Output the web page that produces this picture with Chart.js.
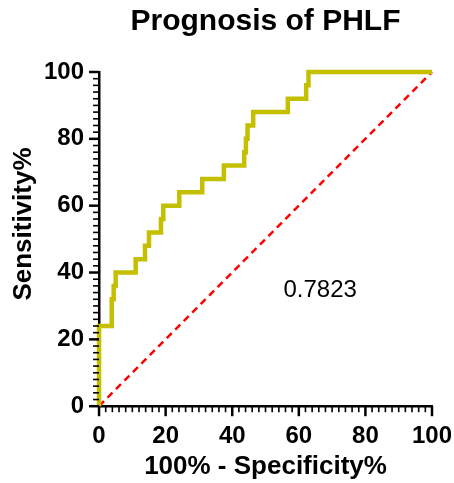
<!DOCTYPE html>
<html>
<head>
<meta charset="utf-8">
<script src="https://cdn.jsdelivr.net/npm/chart.js@4"></script>
<style>
  body { margin: 0; background: #fff; }
</style>
</head>
<body>
<canvas id="rocChart" width="454" height="483"></canvas>
<script>
// ROC curve vertices (100% - specificity, sensitivity)
const fpr = [0, 0, 3.8, 3.8, 4.4, 4.4, 5, 5, 11, 11, 13.8, 13.8, 15, 15, 18.6, 18.6, 19.3, 19.3, 24.1, 24.1, 31, 31, 37.5, 37.5, 43.6, 43.6, 44.1, 44.1, 44.6, 44.6, 46.3, 46.3, 56.7, 56.7, 62.2, 62.2, 62.9, 62.9, 100];
const tpr = [0, 24, 24, 32, 32, 36, 36, 40, 40, 44, 44, 48, 48, 52, 52, 56, 56, 60, 60, 64, 64, 68, 68, 72, 72, 76, 76, 80, 80, 84, 84, 88, 88, 92, 92, 96, 96, 100, 100];
const refX = [0, 100];
const refY = [0, 100];
const majorTicks = [0, 20, 40, 60, 80, 100];
const aucText = '0.7823';
const chartTitle = 'Prognosis of PHLF';
const xTitle = '100% - Specificity%';
const yTitle = 'Sensitivity%';

const FONT = 'Arial, "Liberation Sans", sans-serif';

// Minor/major ticks, titles and AUC label
const extrasPlugin = {
    id: 'extras',
    afterDraw(chart) {
        const ctx = chart.ctx;
        const xs = chart.scales.x;
        const ys = chart.scales.y;
        const area = chart.chartArea;
        ctx.save();
        ctx.strokeStyle = '#000';
        for (let v = 0; v <= 100; v += 2) {
            const major = v % 20 === 0;
            const len = major ? 10 : 6;
            ctx.lineWidth = major ? 2.5 : 1.6;
            const px = xs.getPixelForValue(v);
            ctx.beginPath();
            ctx.moveTo(px, area.bottom);
            ctx.lineTo(px, area.bottom + len);
            ctx.stroke();
            const py = ys.getPixelForValue(v);
            ctx.beginPath();
            ctx.moveTo(area.left, py);
            ctx.lineTo(area.left - len, py);
            ctx.stroke();
        }
        const cx = (area.left + area.right) / 2;
        ctx.fillStyle = '#000';
        ctx.textAlign = 'center';
        ctx.textBaseline = 'middle';
        ctx.font = 'bold 30px ' + FONT;
        ctx.fillText(chartTitle, cx, 22);
        ctx.font = 'bold 26px ' + FONT;
        ctx.fillText(xTitle, cx, 467);
        ctx.save();
        ctx.translate(24, 224);
        ctx.rotate(-Math.PI / 2);
        ctx.fillText(yTitle, 0, 0);
        ctx.restore();
        ctx.font = '24px ' + FONT;
        ctx.fillText(aucText, xs.getPixelForValue(66.4), ys.getPixelForValue(34.8));
        ctx.restore();
    }
};

new Chart(document.getElementById('rocChart'), {
    type: 'line',
    data: {
        datasets: [{
            data: fpr.map((x, i) => ({ x: x, y: tpr[i] })),
            borderColor: '#c4c000',
            borderWidth: 4.5,
            pointRadius: 0,
            fill: false,
            tension: 0,
            clip: 6
        }, {
            data: refX.map((x, i) => ({ x: x, y: refY[i] })),
            borderColor: '#ff0000',
            borderWidth: 2.5,
            borderDash: [7, 5],
            pointRadius: 0,
            fill: false,
            clip: 6
        }]
    },
    options: {
        responsive: false,
        animation: false,
        layout: {
            padding: { top: 72, right: 22, left: 29, bottom: 16 }
        },
        plugins: {
            legend: { display: false },
            tooltip: { enabled: false }
        },
        scales: {
            x: {
                type: 'linear',
                min: 0,
                max: 100,
                afterBuildTicks: scale => { scale.ticks = majorTicks.map(v => ({ value: v })); },
                afterFit: scale => { scale.paddingRight = 0; scale.paddingLeft = 0; },
                ticks: {
                    color: '#000',
                    padding: 16,
                    maxRotation: 0,
                    font: { family: FONT, size: 24, weight: 'bold' }
                },
                grid: { drawOnChartArea: false, drawTicks: false },
                border: { display: true, color: '#000', width: 2.5 }
            },
            y: {
                type: 'linear',
                min: 0,
                max: 100,
                afterBuildTicks: scale => { scale.ticks = majorTicks.map(v => ({ value: v })); },
                ticks: {
                    color: '#000',
                    padding: 15,
                    font: { family: FONT, size: 24, weight: 'bold' }
                },
                grid: { drawOnChartArea: false, drawTicks: false },
                border: { display: true, color: '#000', width: 2.5 }
            }
        }
    },
    plugins: [extrasPlugin]
});
</script>
</body>
</html>
